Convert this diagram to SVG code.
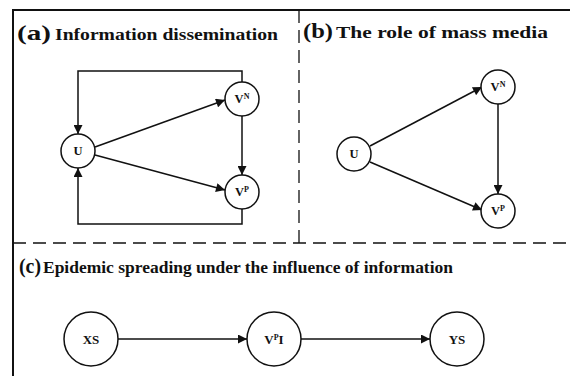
<svg xmlns="http://www.w3.org/2000/svg" width="570" height="376" viewBox="0 0 570 376">
  <style>
    .frame { fill: none; stroke: #111; stroke-width: 2; }
    .divider { fill: none; stroke: #111; stroke-width: 1.3; stroke-dasharray: 13 7; }
    .node circle { fill: #fff; stroke: #111; stroke-width: 1.5; }
    .edge { fill: none; stroke: #111; stroke-width: 1.5; }
    .lbl { font-family: "Liberation Serif", "Times New Roman", serif; font-weight: bold; fill: #111; }
    .tag { font-size: 22px; }
    .title { font-size: 16.5px; }
    .nlbl { font-size: 12.5px; text-anchor: middle; }
    .big { font-size: 13px; }
    .sup { font-size: 8px; }
  </style>
  <defs>
    <marker id="arrow" viewBox="0 0 10 10" refX="10" refY="5" markerWidth="11" markerHeight="9" markerUnits="userSpaceOnUse" orient="auto">
      <path d="M0,0 L10,5 L0,10 Z" fill="#111"/>
    </marker>
  </defs>
  <rect width="570" height="376" fill="#fff"/>

  <!-- outer frame and panel dividers -->
  <g id="frame">
    <path class="frame" d="M13,376 V10 H570"/>
    <path class="divider" d="M299,10 V243"/>
    <path class="divider" d="M13,243 H570"/>
  </g>

  <!-- panel titles -->
  <g id="titles">
    <text class="lbl" x="17" y="40"><tspan class="tag" textLength="34" lengthAdjust="spacingAndGlyphs">(a)</tspan><tspan class="title" x="55" textLength="223" lengthAdjust="spacingAndGlyphs">Information dissemination</tspan></text>
    <text class="lbl" x="303" y="38"><tspan class="tag" textLength="30" lengthAdjust="spacingAndGlyphs">(b)</tspan><tspan class="title" x="336" textLength="212" lengthAdjust="spacingAndGlyphs">The role of mass media</tspan></text>
    <text class="lbl" x="19" y="273"><tspan class="tag" textLength="22" lengthAdjust="spacingAndGlyphs">(c)</tspan><tspan class="title" x="43" textLength="410" lengthAdjust="spacingAndGlyphs">Epidemic spreading under the influence of information</tspan></text>
  </g>

  <!-- connectors -->
  <g id="connectors">
    <!-- panel (a) -->
    <line class="edge" x1="95" y1="147" x2="225" y2="100" marker-end="url(#arrow)"/>
    <line class="edge" x1="95" y1="155" x2="225" y2="190" marker-end="url(#arrow)"/>
    <line class="edge" x1="242" y1="116" x2="242" y2="175" marker-end="url(#arrow)"/>
    <path class="edge" d="M242,82 V71 H78 V134" marker-end="url(#arrow)"/>
    <path class="edge" d="M242,209 V224 H78 V168" marker-end="url(#arrow)"/>
    <!-- panel (b) -->
    <line class="edge" x1="370" y1="146" x2="482" y2="87" marker-end="url(#arrow)"/>
    <line class="edge" x1="370" y1="162" x2="482" y2="210" marker-end="url(#arrow)"/>
    <line class="edge" x1="498" y1="104" x2="498" y2="194" marker-end="url(#arrow)"/>
    <!-- panel (c) -->
    <line class="edge" x1="118" y1="339" x2="247" y2="339" marker-end="url(#arrow)"/>
    <line class="edge" x1="301" y1="339" x2="430" y2="339" marker-end="url(#arrow)"/>
  </g>

  <!-- panel (a) nodes -->
  <g id="a-U" class="node">
    <circle cx="78" cy="151" r="17"/>
    <text class="lbl nlbl" x="78" y="155">U</text>
  </g>
  <g id="a-VN" class="node">
    <circle cx="242" cy="99" r="17"/>
    <text class="lbl nlbl" x="242" y="103">V<tspan class="sup" dy="-4">N</tspan></text>
  </g>
  <g id="a-VP" class="node">
    <circle cx="242" cy="192" r="17"/>
    <text class="lbl nlbl" x="242" y="196">V<tspan class="sup" dy="-4">P</tspan></text>
  </g>

  <!-- panel (b) nodes -->
  <g id="b-U" class="node">
    <circle cx="354" cy="154" r="17"/>
    <text class="lbl nlbl" x="354" y="158">U</text>
  </g>
  <g id="b-VN" class="node">
    <circle cx="498" cy="87" r="17"/>
    <text class="lbl nlbl" x="498" y="91">V<tspan class="sup" dy="-4">N</tspan></text>
  </g>
  <g id="b-VP" class="node">
    <circle cx="498" cy="211" r="17"/>
    <text class="lbl nlbl" x="498" y="215">V<tspan class="sup" dy="-4">P</tspan></text>
  </g>

  <!-- panel (c) nodes -->
  <g id="c-XS" class="node">
    <circle cx="91" cy="339" r="27"/>
    <text class="lbl nlbl big" x="91" y="344">XS</text>
  </g>
  <g id="c-VPI" class="node">
    <circle cx="274" cy="339" r="27"/>
    <text class="lbl nlbl big" x="274" y="344">V<tspan class="sup" dy="-4">P</tspan><tspan dy="4">I</tspan></text>
  </g>
  <g id="c-YS" class="node">
    <circle cx="457" cy="339" r="27"/>
    <text class="lbl nlbl big" x="457" y="344">YS</text>
  </g>
</svg>
